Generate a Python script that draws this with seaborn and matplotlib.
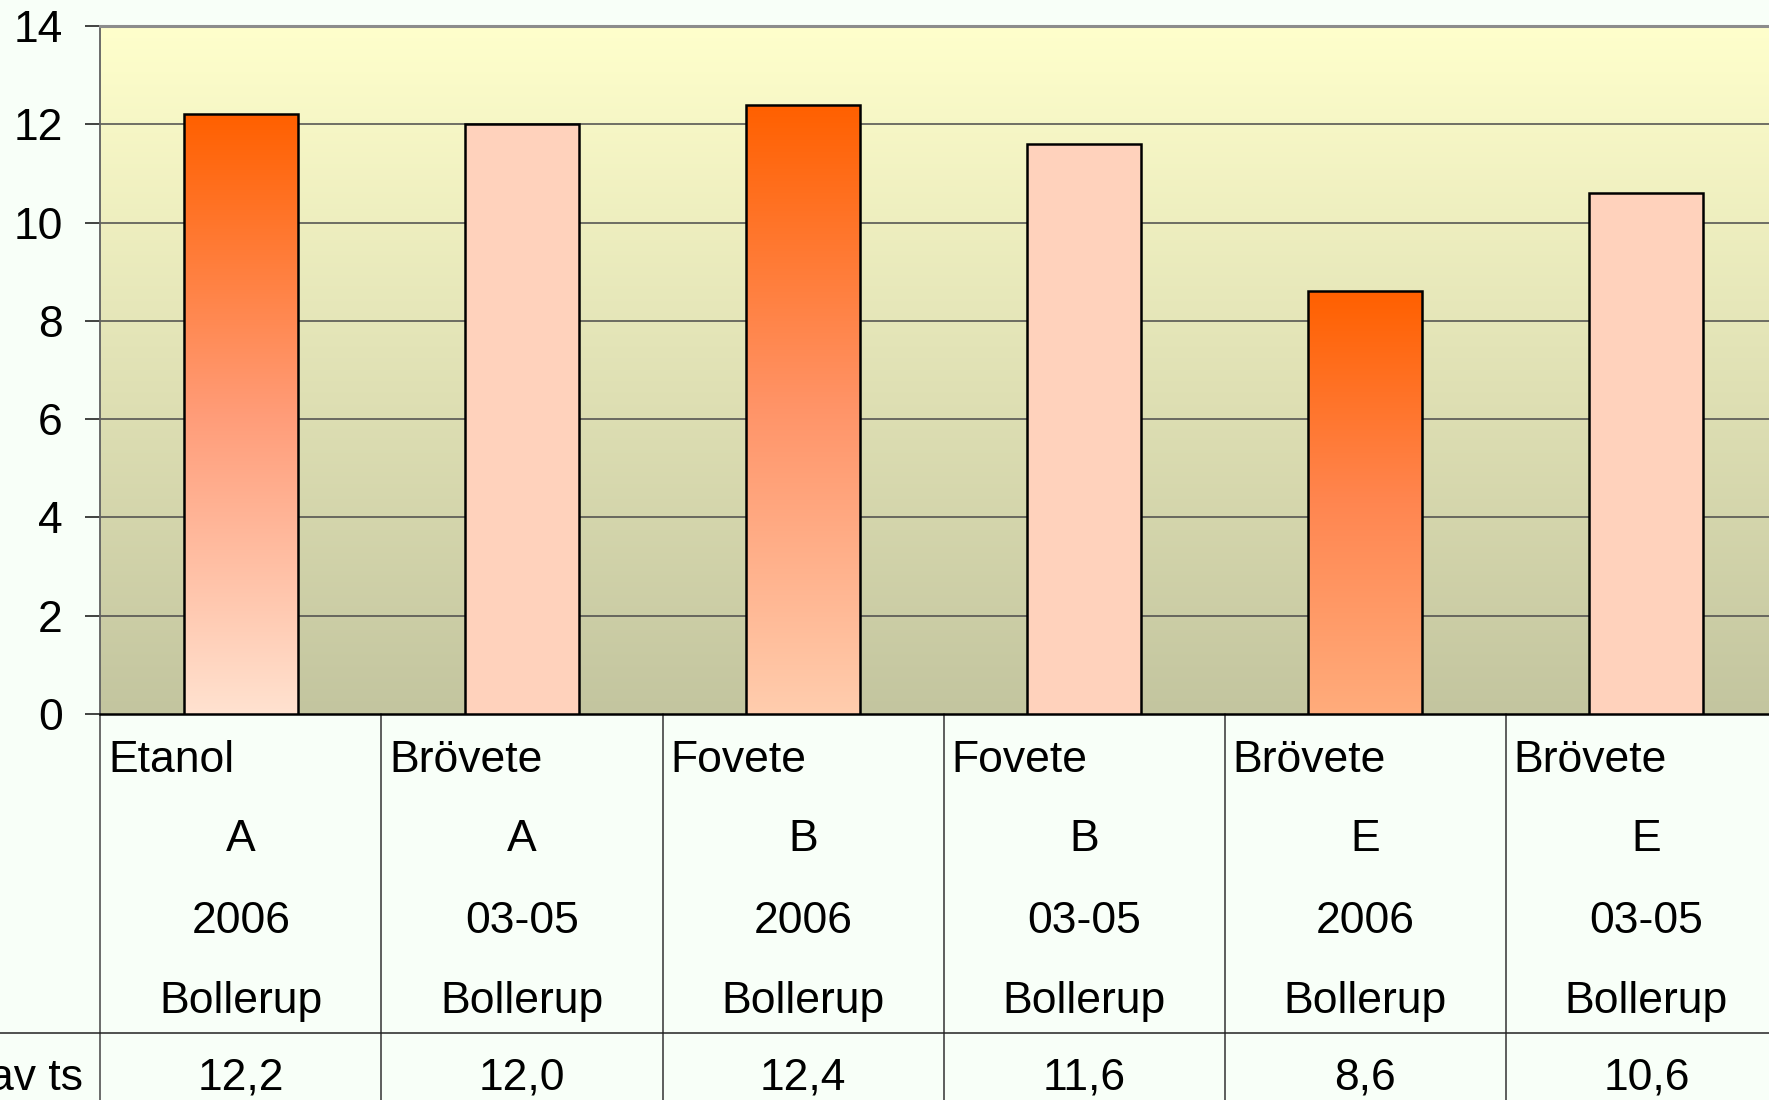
import numpy as np
import matplotlib
matplotlib.use('Agg')
import matplotlib.pyplot as plt
import matplotlib.transforms as mtransforms
from matplotlib.colors import LinearSegmentedColormap
from matplotlib.patches import Rectangle
import pandas as pd
import seaborn as sns

# Data
grodor = ['Etanol', 'Brövete', 'Fovete', 'Fovete', 'Brövete', 'Brövete']
sorter = ['A', 'A', 'B', 'B', 'E', 'E']
perioder = ['2006', '03-05', '2006', '03-05', '2006', '03-05']
platser = ['Bollerup', 'Bollerup', 'Bollerup', 'Bollerup', 'Bollerup', 'Bollerup']
varden = [12.2, 12.0, 12.4, 11.6, 8.6, 10.6]
rad_etikett = 'av ts'
y_ticks = [0, 2, 4, 6, 8, 10, 12, 14]

# Styles: gradient colours (bottom, middle) for the 2006 bars, pattern fill for 03-05
gradient_top = '#FF6000'
gradient_stops = {0: ('#FFE2D0', '#FF9C78'), 2: ('#FFCDAE', '#FF9468'), 4: ('#FFAC7C', '#FF8650')}
pattern_fill = '#FFD2BC'

sns.set_theme(style='white')
plt.rcParams['font.family'] = ['Liberation Sans', 'DejaVu Sans']
plt.rcParams['text.color'] = 'black'
plt.rcParams['hatch.linewidth'] = 0.6

df = pd.DataFrame({
    'kategori': [f'{g} {s} {p}' for g, s, p in zip(grodor, sorter, perioder)],
    'varde': varden,
})

fig = plt.figure(figsize=(17.69, 11.0), dpi=100)
fig.patch.set_facecolor('#F8FFF8')
ax = fig.add_axes([0.05675, 0.3509, 0.9534, 0.6255])

sns.barplot(data=df, x='kategori', y='varde', ax=ax, width=0.405,
            color=pattern_fill, edgecolor='black', linewidth=1.8,
            saturation=1, errorbar=None)

# background gradient of the plot area
bg = LinearSegmentedColormap.from_list('bg', ['#C3C59F', '#FFFFCC'])
ax.imshow(np.linspace(0, 1, 256).reshape(-1, 1), extent=[-0.5, 5.5, 0, 14],
          origin='lower', cmap=bg, aspect='auto', zorder=0)

for y in y_ticks[1:-1]:
    ax.axhline(y, color='#4A4A4A', lw=1.1, zorder=1)

for i, p in enumerate(ax.patches):
    p.set_zorder(3)
    x0, w, h = p.get_x(), p.get_width(), p.get_height()
    if i in gradient_stops:
        p.set_facecolor('none')
        low, mid = gradient_stops[i]
        cm = LinearSegmentedColormap.from_list(f'g{i}', [low, mid, gradient_top])
        im = ax.imshow(np.linspace(0, 1, 256).reshape(-1, 1), extent=[x0, x0 + w, 0, h],
                       origin='lower', cmap=cm, aspect='auto', zorder=2.9)
        im.set_clip_path(p)
    else:
        ax.add_patch(Rectangle((x0, 0), w, h, facecolor='none', edgecolor='#FFE9DD',
                               lw=0, hatch='++++', zorder=2.95))

ax.set_xlim(-0.5, 5.5)
ax.set_ylim(0, 14)
ax.set_yticks(y_ticks)
ax.set_yticklabels([str(t) for t in y_ticks], fontsize=32, color='black')
ax.tick_params(axis='y', left=True, length=11, width=1.2, color='#222222', pad=16)
ax.set_xticks([])
ax.set_xlabel('')
ax.set_ylabel('')
for side in ['top', 'left', 'bottom']:
    ax.spines[side].set_visible(True)
ax.spines['top'].set_color('#8C8C8C')
ax.spines['top'].set_linewidth(2.2)
ax.spines['left'].set_color('#606060')
ax.spines['left'].set_linewidth(1.3)
ax.spines['bottom'].set_color('black')
ax.spines['bottom'].set_linewidth(1.8)
ax.spines['right'].set_visible(False)

# data table below the axis
trans = mtransforms.blended_transform_factory(ax.transData, fig.transFigure)
ax.plot([-0.5, -0.5], [0, 0.3509], transform=trans, color='#606060', lw=1.3, clip_on=False)
for b in np.arange(0.5, len(varden), 1.0):
    ax.plot([b, b], [0, 0.3509], transform=trans, color='#333333', lw=1.1, clip_on=False)
fig.add_artist(plt.Line2D([0, 1], [0.0609, 0.0609], color='#222222', lw=1.1))

for i in range(len(varden)):
    ax.text(i - 0.5 + 0.028, 0.2982, grodor[i], transform=trans, fontsize=32,
            ha='left', va='baseline')
    ax.text(i, 0.2264, sorter[i], transform=trans, fontsize=32, ha='center', va='baseline')
    ax.text(i, 0.1518, perioder[i], transform=trans, fontsize=32, ha='center', va='baseline')
    ax.text(i, 0.0791, platser[i], transform=trans, fontsize=32, ha='center', va='baseline')
    ax.text(i, 0.0091, f'{varden[i]:.1f}'.replace('.', ','), transform=trans,
            fontsize=32, ha='center', va='baseline')
fig.text(83 / 1769, 0.0091, rad_etikett, fontsize=32, ha='right', va='baseline')

fig.savefig('out.png', dpi=100, facecolor=fig.get_facecolor())
